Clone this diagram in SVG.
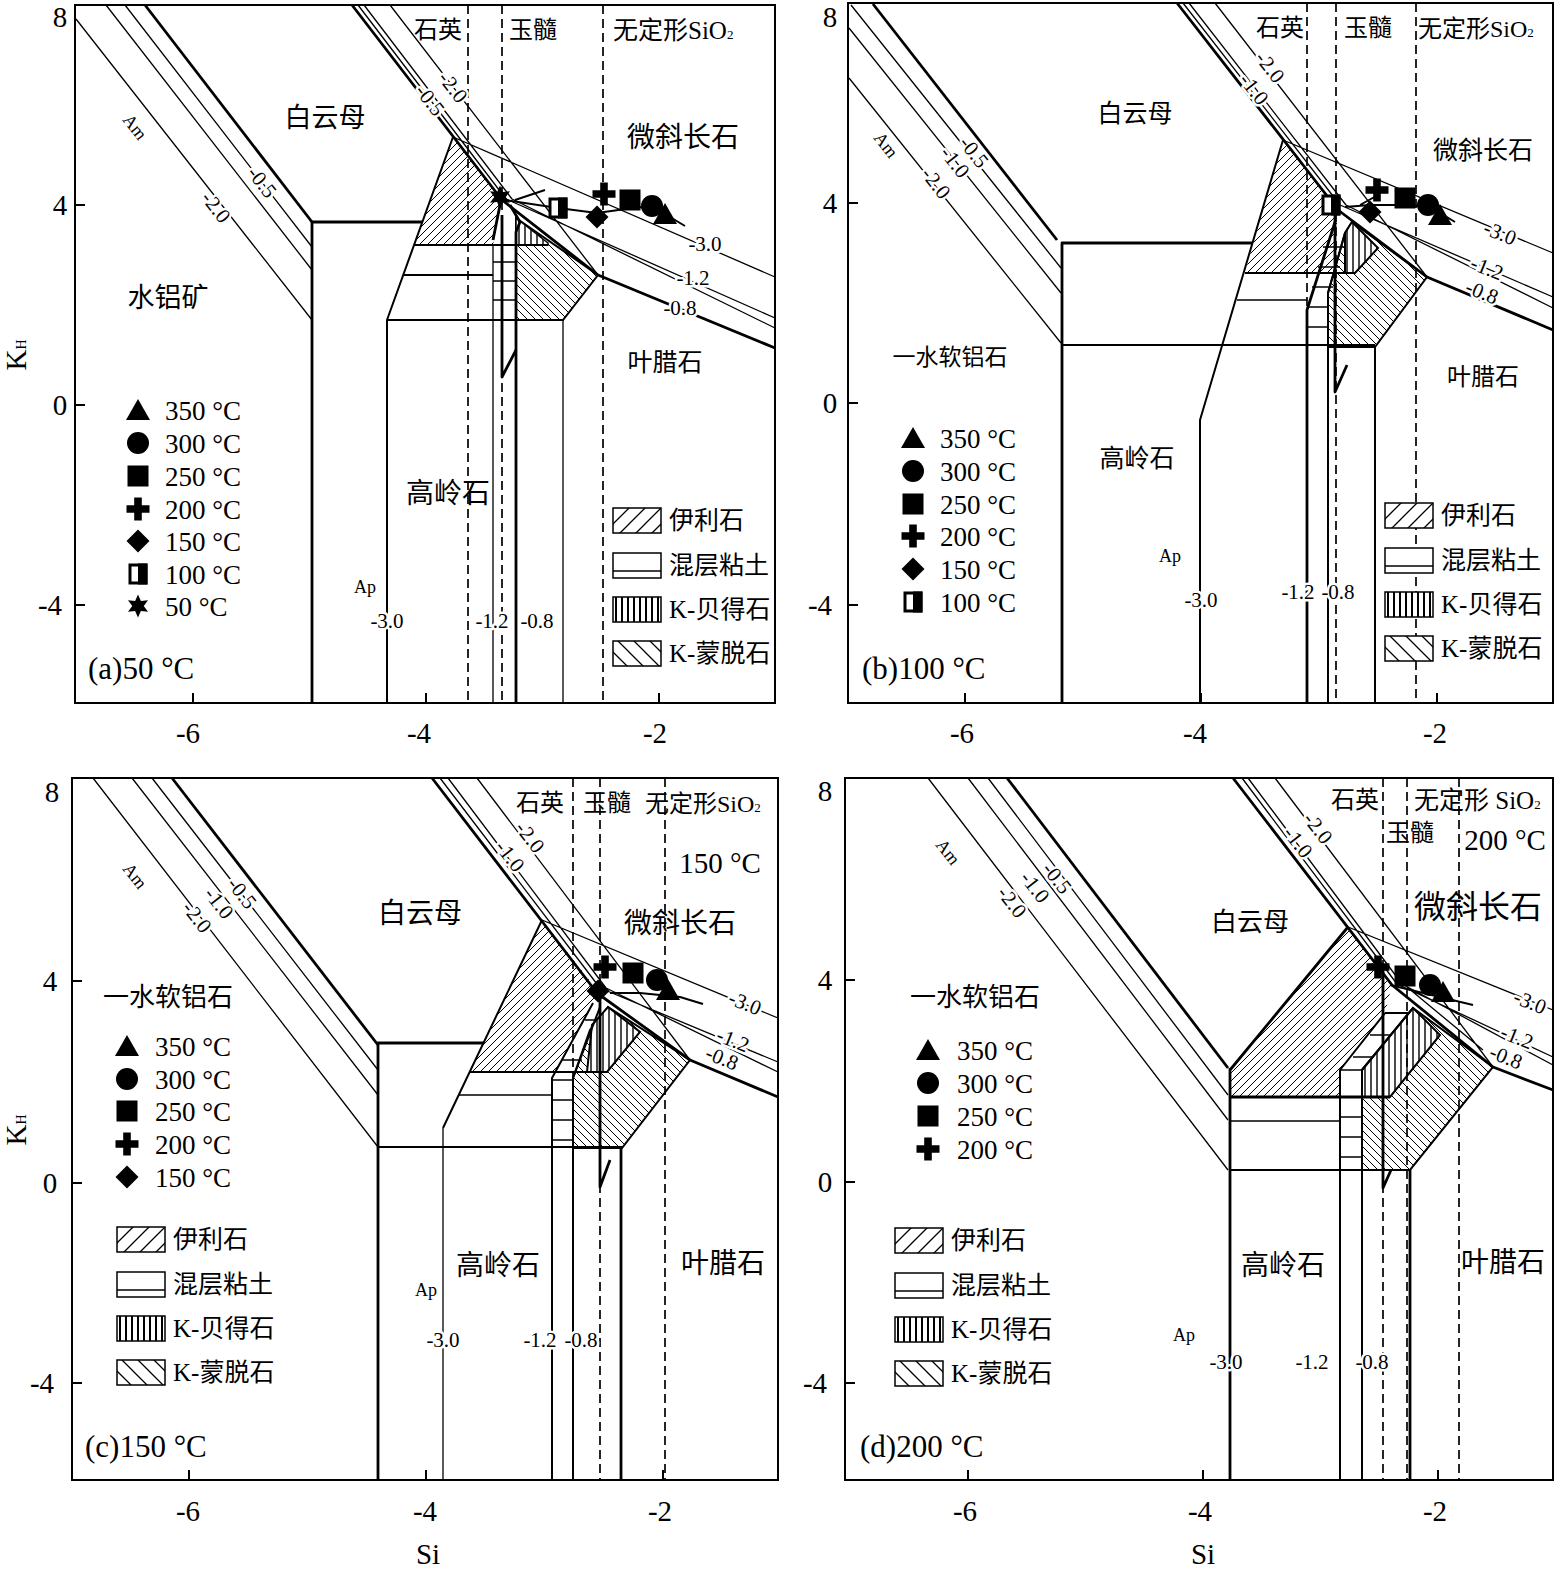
<svg xmlns="http://www.w3.org/2000/svg" width="1561" height="1573" viewBox="0 0 1561 1573">
<style>
.l{fill:none;stroke:#000;stroke-linejoin:round}
.w1{stroke-width:1.3}
.w15{stroke-width:1.6}
.w2{stroke-width:2}
.w3{stroke-width:2.8}
.dsh{fill:none;stroke:#000;stroke-width:1.7;stroke-dasharray:9 5}
.fr{fill:none;stroke:#000;stroke-width:2}
text{font-family:"Liberation Serif","Noto Sans CJK SC",serif;fill:#000}
.ax{font-size:29px;text-anchor:middle}
.lb{font-size:21px;paint-order:stroke;stroke:#fff;stroke-width:5px;stroke-linejoin:round;text-anchor:middle;dominant-baseline:central}
.sm{font-size:18px;text-anchor:middle;dominant-baseline:central}
.cn{text-anchor:middle;dominant-baseline:central}
.lg{font-size:25px}
.tl{font-size:27px}
.pt{font-size:31px}
.hb{stroke:#000;stroke-width:1.5}
</style>
<defs>
<pattern id="pIll" patternUnits="userSpaceOnUse" width="8" height="8"><rect width="8" height="8" fill="#fff"/><path d="M-1,1L1,-1M0,8L8,0M7,9L9,7" stroke="#000" stroke-width="1"/></pattern>
<pattern id="pMon" patternUnits="userSpaceOnUse" width="8" height="8"><rect width="8" height="8" fill="#fff"/><path d="M-1,7L1,9M0,0L8,8M7,-1L9,1" stroke="#000" stroke-width="1"/></pattern>
<pattern id="pBei" patternUnits="userSpaceOnUse" width="6" height="10"><rect width="6" height="10" fill="#fff"/><path d="M3,0V10" stroke="#000" stroke-width="1.4"/></pattern>
<pattern id="pIllL" patternUnits="userSpaceOnUse" width="16" height="16"><rect width="16" height="16" fill="#fff"/><path d="M0,16L16,0M-2,2L2,-2M14,18L18,14" stroke="#000" stroke-width="1.3"/></pattern>
<pattern id="pMonL" patternUnits="userSpaceOnUse" width="16" height="16"><rect width="16" height="16" fill="#fff"/><path d="M0,0L16,16M-2,14L2,18M14,-2L18,2" stroke="#000" stroke-width="1.3"/></pattern>
<pattern id="pBeiL" patternUnits="userSpaceOnUse" width="6" height="10"><rect width="6" height="10" fill="#fff"/><path d="M3,0V10" stroke="#000" stroke-width="2"/></pattern>
<polygon id="sTri" points="0,-11 12,10 -12,10"/>
<circle id="sCir" r="11"/>
<rect id="sSq" x="-10.5" y="-10.5" width="21" height="21"/>
<path id="sPlus" d="M-3.8,-11.5h7.6v7.7h7.7v7.6h-7.7v7.7h-7.6v-7.7h-7.7v-7.6h7.7z"/>
<polygon id="sDia" points="0,-11.5 11.5,0 0,11.5 -11.5,0"/>
<g id="sHalf"><rect x="-8" y="-9" width="16" height="18" fill="#fff" stroke="#000" stroke-width="3"/><rect x="0" y="-10.5" width="9.5" height="21"/></g>
<polygon id="sStar" points="0,-11.5 2.9,-5 10,-5.75 5.75,0 10,5.75 2.9,5 0,11.5 -2.9,5 -10,5.75 -5.75,0 -10,-5.75 -2.9,-5"/>
<g id="hleg">
<rect x="0" y="0" width="48" height="25" fill="url(#pIllL)" class="hb"/>
<text x="56" y="21" class="lg">伊利石</text>
<rect x="0" y="45" width="48" height="25" fill="#fff" class="hb"/>
<path d="M0,63H48" stroke="#000" stroke-width="1.3"/>
<text x="56" y="66" class="lg">混层粘土</text>
<rect x="0" y="89" width="48" height="25" fill="url(#pBeiL)" class="hb"/>
<text x="56" y="110" class="lg">K-贝得石</text>
<rect x="0" y="133" width="48" height="25" fill="url(#pMonL)" class="hb"/>
<text x="56" y="154" class="lg">K-蒙脱石</text>
</g>
</defs>
<rect width="1561" height="1573" fill="#fff"/>

<!-- ================= PANEL A ================= -->
<g id="panel-a">
<g id="a-regions">
<polygon points="453,137 502,200 493,245 414,245" fill="url(#pIll)"/>
<polygon points="516,218 598,275 563,320 516,320" fill="url(#pMon)" stroke="#000" stroke-width="2"/>
<polygon points="516,218 548,243 548,245 516,245" fill="url(#pBei)" stroke="#000" stroke-width="1.5"/>
</g>
<g id="a-connectors">
<rect class="fr" x="75" y="5" width="700" height="698"/>
<path class="l w2" d="M75,205h10M75,405h10M75,605h10M193,703v-10M426,703v-10M659,703v-10"/>
<path class="dsh" d="M468,5V703M502,5V703M603,5V703"/>
<path class="l w1" d="M76,19L312,320M106,5L312,270M125,5L312,247"/>
<path class="l w3" d="M145,5L312,222"/>
<path class="l w3" d="M312,703V222H422"/>
<path class="l w3" d="M352,5L502,200L598,275L775,348"/>
<path class="l w1" d="M358,5L506,199L775,318M364,5L512,199L775,328M390,5L598,275M453,137L775,277"/>
<path class="l w2" d="M453,137L387,320V703M414,245H548M403,275H493M387,320H563"/>
<path class="l w1" d="M563,320V703M493,245V703M493,262H516M493,281H516M493,300H516"/>
<path class="l w3" d="M500,205L493,240M510,205L520,222L516,232V703"/>
<path class="l w3" d="M502,215V377L516,350"/>
</g>
<g id="a-markers">
<path class="l w2" d="M505,200L558,208L597,213L640,207L665,214L685,226M515,200L545,190"/>
<use href="#sStar" x="500" y="197"/>
<use href="#sHalf" x="558" y="208"/>
<use href="#sDia" x="597" y="217"/>
<use href="#sPlus" x="604" y="194"/>
<use href="#sSq" x="630" y="200"/>
<use href="#sCir" x="652" y="206"/>
<use href="#sTri" x="665" y="214"/>
</g>
<g id="a-labels">
<text class="ax" x="60" y="27">8</text>
<text class="ax" x="60" y="215">4</text>
<text class="ax" x="60" y="415">0</text>
<text class="ax" x="50" y="615">-4</text>
<text class="ax" x="188" y="743">-6</text>
<text class="ax" x="419" y="743">-4</text>
<text class="ax" x="655" y="743">-2</text>
<text class="ax" transform="translate(26,355) rotate(-90)" font-size="31">K<tspan font-size="14">H</tspan></text>
<text class="sm" transform="translate(135,127) rotate(52)">Am</text>
<text class="lb" transform="translate(216,207) rotate(52)">-2.0</text>
<text class="lb" transform="translate(262,182) rotate(52)">-0.5</text>
<text class="lb" transform="translate(453,87) rotate(52)">-2.0</text>
<text class="lb" transform="translate(430,100) rotate(52)">-0.5</text>
<text class="lb" x="705" y="244">-3.0</text>
<text class="lb" x="693" y="278">-1.2</text>
<text class="lb" x="680" y="308">-0.8</text>
<text class="cn" x="438" y="30" font-size="24">石英</text>
<text class="cn" x="533" y="30" font-size="24">玉髓</text>
<text x="613" y="39" font-size="25">无定形SiO<tspan font-size="13">2</tspan></text>
<text class="cn" x="325" y="118" font-size="27">白云母</text>
<text class="cn" x="683" y="137" font-size="28">微斜长石</text>
<text class="cn" x="168" y="298" font-size="27">水铝矿</text>
<text class="cn" x="665" y="362" font-size="25">叶腊石</text>
<text class="cn" x="448" y="493" font-size="28">高岭石</text>
<text class="sm" x="365" y="587">Ap</text>
<text class="lb" x="387" y="621">-3.0</text>
<text class="lb" x="492" y="621">-1.2</text>
<text class="lb" x="537" y="621">-0.8</text>
<text class="pt" x="88" y="679">(a)50 °C</text>
</g>
<g id="a-legend">
<use href="#sTri" x="138" y="410"/><text class="tl" x="165" y="420">350 °C</text>
<use href="#sCir" x="138" y="443"/><text class="tl" x="165" y="453">300 °C</text>
<use href="#sSq" x="138" y="476"/><text class="tl" x="165" y="486">250 °C</text>
<use href="#sPlus" x="138" y="509"/><text class="tl" x="165" y="519">200 °C</text>
<use href="#sDia" x="138" y="541"/><text class="tl" x="165" y="551">150 °C</text>
<use href="#sHalf" x="138" y="574"/><text class="tl" x="165" y="584">100 °C</text>
<use href="#sStar" x="138" y="606"/><text class="tl" x="165" y="616">50 °C</text>
<use href="#hleg" x="613" y="508"/>
</g>
</g>

<!-- ================= PANEL B ================= -->
<g id="panel-b">
<g id="b-regions">
<polygon points="1283,140 1338,210 1333,273 1245,273" fill="url(#pIll)"/>
<polygon points="1352,222 1427,277 1375,347 1328,347 1328,293 1345,233" fill="url(#pMon)" stroke="#000" stroke-width="2"/>
<polygon points="1352,222 1378,248 1355,273 1345,273 1345,233" fill="url(#pBei)" stroke="#000" stroke-width="2"/>
</g>
<g id="b-connectors">
<rect class="fr" x="848" y="3" width="705" height="700"/>
<path class="l w2" d="M848,203h10M848,403h10M848,605h10M965,703v-10M1201,703v-10M1437,703v-10"/>
<path class="dsh" d="M1307,3V703M1336,3V703M1416,3V703"/>
<path class="l w1" d="M849,78L1061,343M849,28L1061,293M851,5L1061,268"/>
<path class="l w3" d="M873,4L1057,240"/>
<path class="l w3" d="M1062,703V243H1252"/>
<path class="l w2" d="M1062,345H1375"/>
<path class="l w3" d="M1177,3L1338,210L1427,277L1553,330"/>
<path class="l w1" d="M1183,3L1340,205L1553,297M1189,3L1346,205L1553,308M1215,3L1427,277M1283,140L1553,253"/>
<path class="l w2" d="M1283,140L1200,420V703M1245,273H1355M1375,347V703"/>
<path class="l w15" d="M1237,300H1307"/>
<path class="l w3" d="M1335,222L1307,310V703"/>
<path class="l w2" d="M1345,233L1328,293V703"/>
<path class="l w1" d="M1323,247H1345M1318,267H1340M1312,287H1333M1307,307H1328M1307,327H1328"/>
<path class="l w3" d="M1335,212V392L1347,365"/>
</g>
<g id="b-markers">
<path class="l w2" d="M1345,207L1370,205L1410,205L1432,208L1455,222M1360,205L1378,195"/>
<use href="#sHalf" x="1331" y="205"/>
<use href="#sDia" x="1370" y="212"/>
<use href="#sPlus" x="1377" y="190"/>
<use href="#sSq" x="1405" y="198"/>
<use href="#sCir" x="1428" y="205"/>
<use href="#sTri" x="1440" y="215"/>
</g>
<g id="b-labels">
<text class="ax" x="830" y="27">8</text>
<text class="ax" x="830" y="213">4</text>
<text class="ax" x="830" y="413">0</text>
<text class="ax" x="820" y="615">-4</text>
<text class="ax" x="962" y="743">-6</text>
<text class="ax" x="1195" y="743">-4</text>
<text class="ax" x="1435" y="743">-2</text>
<text class="sm" transform="translate(886,145) rotate(52)">Am</text>
<text class="lb" transform="translate(936,183) rotate(52)">-2.0</text>
<text class="lb" transform="translate(955,162) rotate(52)">-1.0</text>
<text class="lb" transform="translate(974,152) rotate(52)">-0.5</text>
<text class="lb" transform="translate(1270,67) rotate(52)">-2.0</text>
<text class="lb" transform="translate(1254,89) rotate(52)">-1.0</text>
<text class="lb" transform="translate(1500,233) rotate(22)">-3.0</text>
<text class="lb" transform="translate(1487,268) rotate(22)">-1.2</text>
<text class="lb" transform="translate(1482,292) rotate(22)">-0.8</text>
<text class="cn" x="1280" y="28" font-size="24">石英</text>
<text class="cn" x="1368" y="28" font-size="24">玉髓</text>
<text x="1418" y="37" font-size="24">无定形SiO<tspan font-size="13">2</tspan></text>
<text class="cn" x="1135" y="113" font-size="25">白云母</text>
<text class="cn" x="1483" y="150" font-size="25">微斜长石</text>
<text class="cn" x="950" y="357" font-size="23">一水软铝石</text>
<text class="cn" x="1483" y="377" font-size="24">叶腊石</text>
<text class="cn" x="1137" y="458" font-size="25">高岭石</text>
<text class="sm" x="1170" y="556">Ap</text>
<text class="lb" x="1201" y="600">-3.0</text>
<text class="lb" x="1298" y="592">-1.2</text>
<text class="lb" x="1338" y="592">-0.8</text>
<text class="pt" x="862" y="679">(b)100 °C</text>
</g>
<g id="b-legend">
<use href="#sTri" x="913" y="438"/><text class="tl" x="940" y="448">350 °C</text>
<use href="#sCir" x="913" y="471"/><text class="tl" x="940" y="481">300 °C</text>
<use href="#sSq" x="913" y="504"/><text class="tl" x="940" y="514">250 °C</text>
<use href="#sPlus" x="913" y="536"/><text class="tl" x="940" y="546">200 °C</text>
<use href="#sDia" x="913" y="569"/><text class="tl" x="940" y="579">150 °C</text>
<use href="#sHalf" x="913" y="602"/><text class="tl" x="940" y="612">100 °C</text>
<use href="#hleg" x="1385" y="503"/>
</g>
</g>

<!-- ================= PANEL C ================= -->
<g id="panel-c">
<g id="c-regions">
<polygon points="542,920 597,990 593,1003 556,1072 470,1072" fill="url(#pIll)"/>
<polygon points="608,1007 690,1060 622,1148 573,1148 573,1078 590,1030" fill="url(#pMon)" stroke="#000" stroke-width="2"/>
<polygon points="608,1007 640,1032 607,1072 587,1072 592,1025" fill="url(#pBei)" stroke="#000" stroke-width="2"/>
</g>
<g id="c-connectors">
<rect class="fr" x="72" y="778" width="706" height="702"/>
<path class="l w2" d="M72,981h10M72,1183h10M72,1383h10M189,1480v-10M426,1480v-10M663,1480v-10"/>
<path class="dsh" d="M573,778V1480M600,778V1480M665,778V1480"/>
<path class="l w1" d="M93,778L378,1147M132,778L378,1095M152,778L378,1070"/>
<path class="l w3" d="M172,778L378,1045"/>
<path class="l w3" d="M378,1480V1043H483"/>
<path class="l w2" d="M378,1147H622"/>
<path class="l w3" d="M432,778L597,993L690,1060L778,1097"/>
<path class="l w1" d="M440,778L600,988L778,1062M448,778L606,988L778,1072M477,778L690,1060M542,920L778,1018"/>
<path class="l w2" d="M542,920L443,1128M470,1072H607"/>
<path class="l w1" d="M443,1128V1480"/>
<path class="l w15" d="M459,1095H552"/>
<path class="l w2" d="M593,1003L552,1078V1480M600,1007L573,1078V1480"/>
<path class="l w15" d="M585,1020H597M561,1060H582M552,1080H573M552,1100H573M552,1120H573M552,1140H573"/>
<path class="l w3" d="M621,1148V1480"/>
<path class="l w3" d="M600,995V1187L610,1160"/>
</g>
<g id="c-markers">
<path class="l w2" d="M610,993L640,993L680,997L703,1004"/>
<use href="#sDia" x="598" y="991"/>
<use href="#sPlus" x="605" y="967"/>
<use href="#sSq" x="633" y="973"/>
<use href="#sCir" x="657" y="980"/>
<use href="#sTri" x="668" y="990"/>
</g>
<g id="c-labels">
<text class="ax" x="52" y="802">8</text>
<text class="ax" x="50" y="991">4</text>
<text class="ax" x="50" y="1193">0</text>
<text class="ax" x="42" y="1393">-4</text>
<text class="ax" x="188" y="1521">-6</text>
<text class="ax" x="425" y="1521">-4</text>
<text class="ax" x="660" y="1521">-2</text>
<text class="ax" x="428" y="1564" font-size="31">Si</text>
<text class="ax" transform="translate(26,1130) rotate(-90)" font-size="31">K<tspan font-size="14">H</tspan></text>
<text class="sm" transform="translate(135,876) rotate(52)">Am</text>
<text class="lb" transform="translate(197,917) rotate(52)">-2.0</text>
<text class="lb" transform="translate(219,903) rotate(52)">-1.0</text>
<text class="lb" transform="translate(242,893) rotate(52)">-0.5</text>
<text class="lb" transform="translate(530,837) rotate(52)">-2.0</text>
<text class="lb" transform="translate(510,856) rotate(52)">-1.0</text>
<text class="lb" transform="translate(745,1003) rotate(22)">-3.0</text>
<text class="lb" transform="translate(733,1040) rotate(22)">-1.2</text>
<text class="lb" transform="translate(722,1058) rotate(22)">-0.8</text>
<text class="cn" x="540" y="803" font-size="24">石英</text>
<text class="cn" x="607" y="803" font-size="24">玉髓</text>
<text x="645" y="812" font-size="24">无定形SiO<tspan font-size="13">2</tspan></text>
<text class="cn" x="720" y="863" font-size="29">150 °C</text>
<text class="cn" x="420" y="913" font-size="28">白云母</text>
<text class="cn" x="680" y="923" font-size="28">微斜长石</text>
<text class="cn" x="168" y="997" font-size="26">一水软铝石</text>
<text class="cn" x="498" y="1265" font-size="28">高岭石</text>
<text class="cn" x="723" y="1263" font-size="28">叶腊石</text>
<text class="sm" x="426" y="1290">Ap</text>
<text class="lb" x="443" y="1340">-3.0</text>
<text class="lb" x="540" y="1340">-1.2</text>
<text class="lb" x="581" y="1340">-0.8</text>
<text class="pt" x="85" y="1457">(c)150 °C</text>
</g>
<g id="c-legend">
<use href="#sTri" x="127" y="1046"/><text class="tl" x="155" y="1056">350 °C</text>
<use href="#sCir" x="127" y="1079"/><text class="tl" x="155" y="1089">300 °C</text>
<use href="#sSq" x="127" y="1111"/><text class="tl" x="155" y="1121">250 °C</text>
<use href="#sPlus" x="127" y="1144"/><text class="tl" x="155" y="1154">200 °C</text>
<use href="#sDia" x="127" y="1177"/><text class="tl" x="155" y="1187">150 °C</text>
<use href="#hleg" x="117" y="1227"/>
</g>
</g>

<!-- ================= PANEL D ================= -->
<g id="panel-d">
<g id="d-regions">
<polygon points="1348,927 1392,985 1385,1013 1340,1070 1340,1097 1230,1097 1230,1070" fill="url(#pIll)"/>
<polygon points="1413,1008 1493,1067 1410,1170 1362,1170 1362,1070" fill="url(#pMon)" stroke="#000" stroke-width="2"/>
<polygon points="1362,1070 1413,1008 1440,1035 1390,1097 1362,1097" fill="url(#pBei)" stroke="#000" stroke-width="2"/>
</g>
<g id="d-connectors">
<rect class="fr" x="845" y="778" width="708" height="702"/>
<path class="l w2" d="M845,980h10M845,1182h10M845,1383h10M968,1480v-10M1203,1480v-10M1438,1480v-10"/>
<path class="dsh" d="M1383,778V1480M1407,778V1480M1459,778V1480"/>
<path class="l w1" d="M928,778L1228,1170M968,778L1228,1120M988,778L1228,1095"/>
<path class="l w3" d="M1007,778L1228,1068"/>
<path class="l w3" d="M1230,1480V1068M1348,927L1230,1070M1230,1097H1390"/>
<path class="l w15" d="M1230,1121H1340"/>
<path class="l w2" d="M1230,1170H1410"/>
<path class="l w3" d="M1233,778L1392,985L1493,1067L1553,1090"/>
<path class="l w1" d="M1242,778L1397,984L1553,1057M1248,778L1402,984L1553,1065M1275,778L1493,1067M1348,927L1553,1010M1407,987L1483,1050"/>
<path class="l w2" d="M1385,1013L1340,1070V1480M1413,1008L1362,1070V1480M1385,1013H1410"/>
<path class="l w15" d="M1370,1035H1390M1353,1057H1373M1340,1070H1362M1340,1117H1362M1340,1137H1362M1340,1157H1362"/>
<path class="l w3" d="M1410,1170V1480"/>
<path class="l w3" d="M1383,967V1188L1391,1170"/>
</g>
<g id="d-markers">
<path class="l w2" d="M1390,985L1473,1005"/>
<use href="#sPlus" x="1378" y="967"/>
<use href="#sSq" x="1405" y="976"/>
<use href="#sCir" x="1430" y="985"/>
<use href="#sTri" x="1443" y="992"/>
</g>
<g id="d-labels">
<text class="ax" x="825" y="801">8</text>
<text class="ax" x="825" y="990">4</text>
<text class="ax" x="825" y="1192">0</text>
<text class="ax" x="815" y="1393">-4</text>
<text class="ax" x="965" y="1521">-6</text>
<text class="ax" x="1200" y="1521">-4</text>
<text class="ax" x="1435" y="1521">-2</text>
<text class="ax" x="1203" y="1564" font-size="31">Si</text>
<text class="sm" transform="translate(948,852) rotate(52)">Am</text>
<text class="lb" transform="translate(1012,902) rotate(52)">-2.0</text>
<text class="lb" transform="translate(1035,887) rotate(52)">-1.0</text>
<text class="lb" transform="translate(1057,878) rotate(52)">-0.5</text>
<text class="lb" transform="translate(1318,828) rotate(52)">-2.0</text>
<text class="lb" transform="translate(1298,842) rotate(52)">-1.0</text>
<text class="lb" transform="translate(1530,1002) rotate(22)">-3.0</text>
<text class="lb" transform="translate(1517,1037) rotate(22)">-1.2</text>
<text class="lb" transform="translate(1506,1057) rotate(22)">-0.8</text>
<text class="cn" x="1355" y="800" font-size="24">石英</text>
<text x="1414" y="809" font-size="25">无定形 SiO<tspan font-size="13">2</tspan></text>
<text class="cn" x="1410" y="833" font-size="24">玉髓</text>
<text class="cn" x="1505" y="840" font-size="29">200 °C</text>
<text class="cn" x="1250" y="922" font-size="26">白云母</text>
<text class="cn" x="1478" y="907" font-size="32">微斜长石</text>
<text class="cn" x="975" y="997" font-size="26">一水软铝石</text>
<text class="cn" x="1283" y="1265" font-size="28">高岭石</text>
<text class="cn" x="1503" y="1262" font-size="28">叶腊石</text>
<text class="sm" x="1184" y="1335">Ap</text>
<text class="lb" x="1226" y="1362">-3.0</text>
<text class="lb" x="1312" y="1362">-1.2</text>
<text class="lb" x="1372" y="1362">-0.8</text>
<text class="pt" x="860" y="1457">(d)200 °C</text>
</g>
<g id="d-legend">
<use href="#sTri" x="928" y="1050"/><text class="tl" x="957" y="1060">350 °C</text>
<use href="#sCir" x="928" y="1083"/><text class="tl" x="957" y="1093">300 °C</text>
<use href="#sSq" x="928" y="1116"/><text class="tl" x="957" y="1126">250 °C</text>
<use href="#sPlus" x="928" y="1149"/><text class="tl" x="957" y="1159">200 °C</text>
<use href="#hleg" x="895" y="1228"/>
</g>
</g>
</svg>
